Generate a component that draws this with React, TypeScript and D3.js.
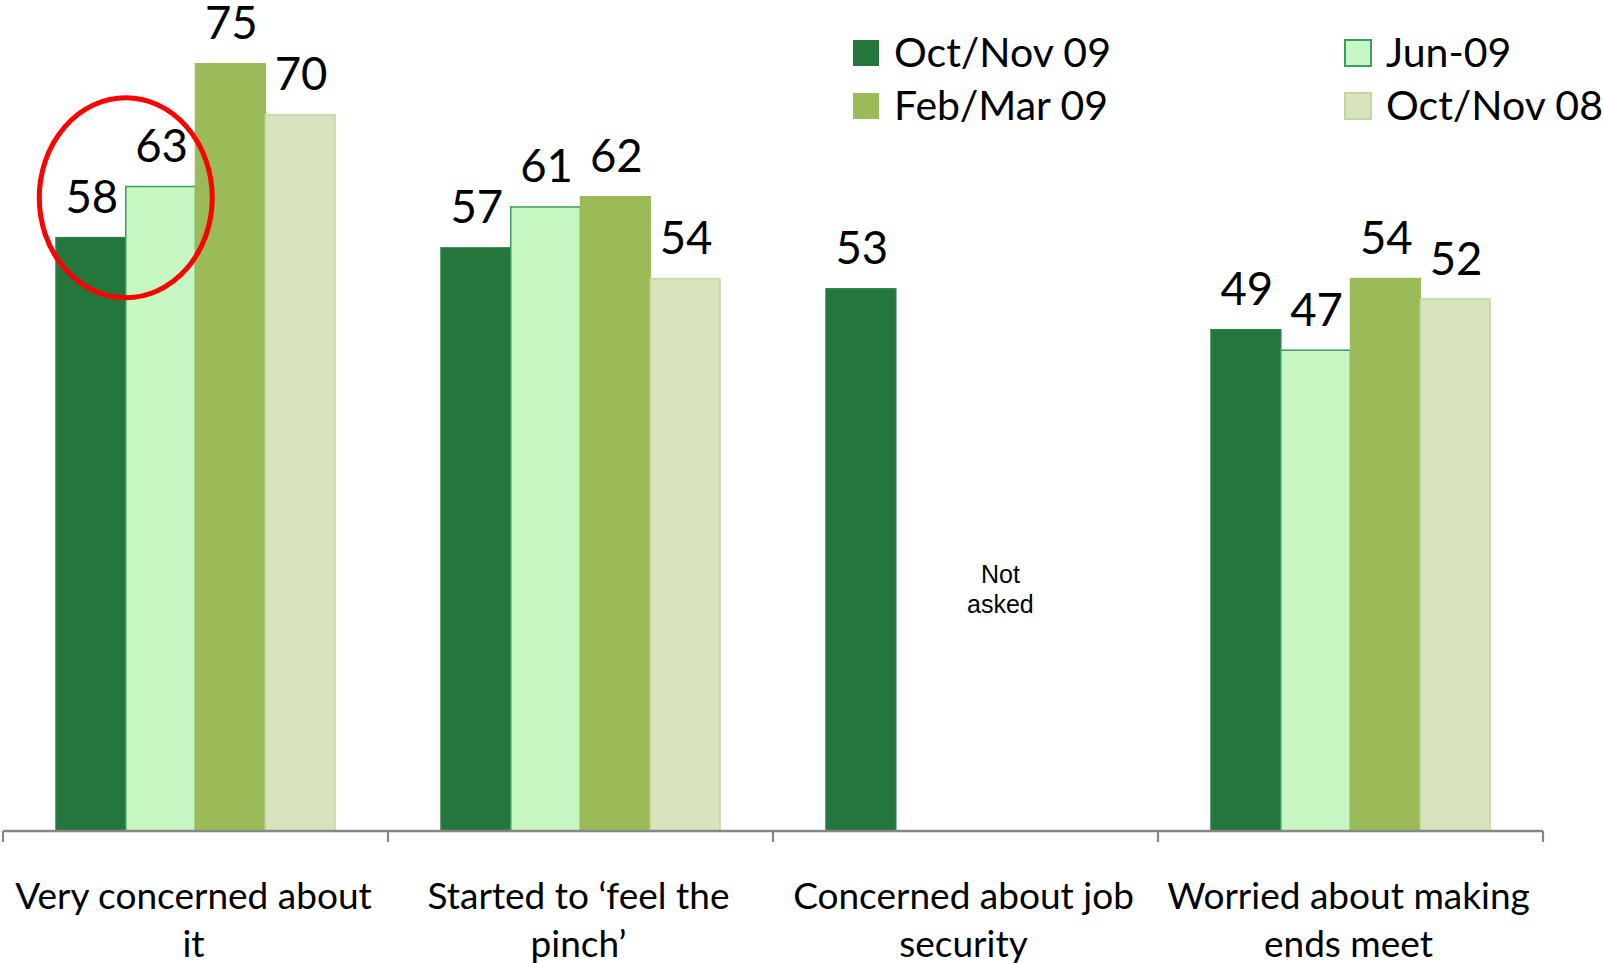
import React from "react";
import * as d3 from "d3";

const categories = ["Very concerned about it", "Started to ‘feel the pinch’", "Concerned about job security", "Worried about making ends meet"];
const categoryLines = [
  ["Very concerned about", "it"],
  ["Started to ‘feel the", "pinch’"],
  ["Concerned about job", "security"],
  ["Worried about making", "ends meet"],
];
const seriesNames = ["Oct/Nov 09", "Jun-09", "Feb/Mar 09", "Oct/Nov 08"];
const octNov09 = [58, 57, 53, 49];
const jun09: (number | null)[] = [63, 61, null, 47];
const febMar09: (number | null)[] = [75, 62, null, 54];
const octNov08: (number | null)[] = [70, 54, null, 52];
const seriesValues = [octNov09, jun09, febMar09, octNov08];
const fills = ["#24763D", "#C6F7C2", "#9BBB59", "#D8E4BD"];
const strokes = ["#2E8048", "#3C9C62", "#9BBB59", "#C3D69B"];
const notAskedLines = ["Not", "asked"];

const W = 1604;
const H = 963;
const FONT = "Lato, 'Open Sans', sans-serif";

export default function App() {
  const x0 = d3.scaleBand<string>().domain(categories).range([3, 1543]).paddingInner(0).paddingOuter(0);
  const groupPad = 53;
  const x1 = d3
    .scaleBand<string>()
    .domain(seriesNames)
    .range([groupPad, x0.bandwidth() - groupPad])
    .padding(0);
  const y = d3.scaleLinear().domain([0, 80]).range([831, 12.6]);

  const ticks = categories.map((c) => x0(c)!).concat([x0.range()[1]]);

  const ellCx = x0(categories[0])! + x1(seriesNames[1])!;
  const ellCy = y(61.9);

  const naX = x0(categories[2])! + (x1(seriesNames[1])! + x1(seriesNames[3])! + x1.bandwidth()) / 2;

  return (
    <svg width={W} height={H} style={{ position: "absolute", left: 0, top: 0, display: "block", background: "#fff" }}>
      {categories.map((c, ci) => (
        <g key={c} transform={`translate(${x0(c)},0)`}>
          {seriesNames.map((s, si) => {
            const v = seriesValues[si][ci];
            if (v == null) return null;
            const bx = x1(s)!;
            const by = y(v);
            return (
              <g key={s}>
                <rect x={bx} y={by} width={x1.bandwidth()} height={y(0) - by} fill={fills[si]} stroke={strokes[si]} strokeWidth={1.5} />
                <text x={bx + x1.bandwidth() / 2 + 1} y={by - 24.5} textAnchor="middle" fontFamily={FONT} fontSize={45.5} fill="#000">
                  {v}
                </text>
              </g>
            );
          })}
        </g>
      ))}

      <line x1={x0.range()[0]} x2={x0.range()[1]} y1={y(0)} y2={y(0)} stroke="#868686" strokeWidth={2.7} />
      {ticks.map((t, i) => (
        <line key={i} x1={t} x2={t} y1={y(0)} y2={y(0) + 11} stroke="#868686" strokeWidth={2.2} />
      ))}

      {categories.map((c, ci) => (
        <text key={c} textAnchor="middle" fontFamily={FONT} fontSize={37} fill="#000">
          {categoryLines[ci].map((ln, li) => (
            <tspan key={li} x={x0(c)! + x0.bandwidth() / 2 - 2} y={909.3 + li * 47.4}>
              {ln}
            </tspan>
          ))}
        </text>
      ))}

      <text textAnchor="middle" fontFamily="'Liberation Sans', Arial, sans-serif" fontSize={25} fill="#000">
        {notAskedLines.map((ln, i) => (
          <tspan key={i} x={naX} y={582.7 + i * 30.6}>
            {ln}
          </tspan>
        ))}
      </text>

      <ellipse cx={ellCx} cy={ellCy} rx={86.5} ry={100} fill="none" stroke="#FF0000" strokeWidth={5} />

      {seriesNames.map((s, si) => {
        const col = si % 2 === 0 ? 0 : 1;
        const row = si === 0 || si === 1 ? 0 : 1;
        const lx = col === 0 ? 853 : 1345;
        const ly = row === 0 ? 40 : 93;
        return (
          <g key={s}>
            <rect x={lx} y={ly} width={26} height={26} fill={fills[si]} stroke={si === 1 || si === 3 ? strokes[si] : "none"} strokeWidth={2} />
            <text x={lx + 41} y={ly + 27.3} fontFamily={FONT} fontSize={41} fill="#000">
              {s}
            </text>
          </g>
        );
      })}
    </svg>
  );
}
